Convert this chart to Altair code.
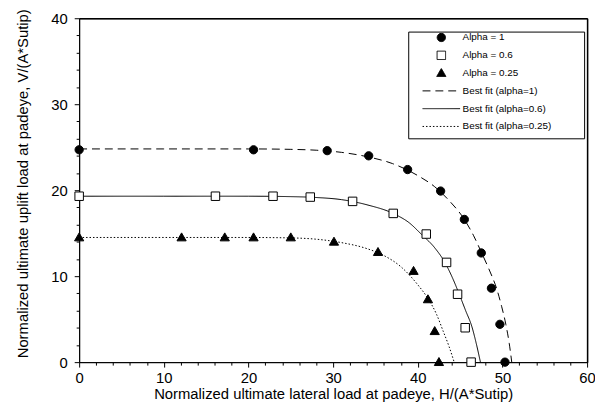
import altair as alt
import pandas as pd

# ---------------- data ----------------
series_names = ["Alpha = 1", "Alpha = 0.6", "Alpha = 0.25",
                "Best fit (alpha=1)", "Best fit (alpha=0.6)", "Best fit (alpha=0.25)"]

# measured points
a1_h = [0, 20.6, 29.3, 34.2, 38.8, 42.7, 45.5, 47.5, 48.7, 49.7, 50.3]
a1_v = [24.7, 24.7, 24.6, 24.0, 22.4, 19.9, 16.6, 12.7, 8.6, 4.4, 0]

a06_h = [0, 16.1, 22.9, 27.3, 32.3, 37.1, 41.0, 43.4, 44.7, 45.6, 46.3]
a06_v = [19.3, 19.3, 19.3, 19.2, 18.7, 17.3, 14.9, 11.6, 7.9, 4.0, 0]

a025_h = [0, 12.1, 17.2, 20.6, 25.0, 30.1, 35.3, 39.5, 41.2, 42.0, 42.5]
a025_v = [14.5, 14.5, 14.5, 14.5, 14.5, 14.0, 12.8, 10.6, 7.3, 3.6, 0]

# best-fit curves
fit1_h = [0, 10, 20, 25, 28, 31, 34, 37, 40, 42, 43.6, 45.5, 46.6, 47.5, 48.5, 49.3, 49.9, 50.4, 50.8, 51.1]
fit1_v = [24.8, 24.8, 24.8, 24.75, 24.65, 24.4, 23.9, 23.1, 21.7, 20.4, 18.9, 16.6, 14.7, 12.8, 10.6, 8.6, 6.5, 4.4, 2.2, 0]

fit06_h = [0, 10, 20, 25, 28, 31, 34, 37.3, 39, 40.4, 42, 43.2, 44.1, 44.9, 45.65, 46.4, 46.9, 47.4]
fit06_v = [19.3, 19.3, 19.3, 19.25, 19.15, 18.9, 18.3, 17.2, 16.2, 14.9, 13.3, 11.6, 9.8, 7.9, 6.0, 4.1, 2.2, 0]

fit025_h = [0, 10, 20, 25, 28, 31, 34, 36, 38, 40, 41.2, 42.2, 43.0, 43.7, 44.3]
fit025_v = [14.5, 14.5, 14.5, 14.45, 14.3, 13.9, 13.2, 12.4, 11.1, 9.0, 7.4, 5.6, 3.6, 1.8, 0]

x_title = "Normalized ultimate lateral load at padeye,  H/(A*Sutip)"
y_title = "Normalized ultimate uplift load at padeye, V/(A*Sutip)"

# ---------------- tables ----------------
pts = pd.concat([
    pd.DataFrame({"H": a1_h, "V": a1_v, "series": series_names[0]}),
    pd.DataFrame({"H": a06_h, "V": a06_v, "series": series_names[1]}),
    pd.DataFrame({"H": a025_h, "V": a025_v, "series": series_names[2]}),
], ignore_index=True)

fits = pd.concat([
    pd.DataFrame({"H": fit1_h, "V": fit1_v, "series": series_names[3]}),
    pd.DataFrame({"H": fit06_h, "V": fit06_v, "series": series_names[4]}),
    pd.DataFrame({"H": fit025_h, "V": fit025_v, "series": series_names[5]}),
], ignore_index=True)

FONT = "Liberation Sans"
SYM = 1444  # symbol size: stroke symbols become 38 px long

# marker outlines in unit space (scaled by sqrt(SYM)/2 = 19 px)
circle_path = "M0.221,0A0.221,0.221,0,1,1,-0.221,0A0.221,0.221,0,1,1,0.221,0Z"
square_path = "M-0.226,-0.226H0.226V0.226H-0.226Z"
tri_path = "M0,-0.245L0.245,0.18L-0.245,0.18Z"

# blank spacer title (widens the legend box to the right, as in the reference)
spacer = "\u200b" + "\u00a0" * 105 + "\u200b"

legend = alt.Legend(
    title=spacer, titleFontSize=6, titleOrient="bottom", titlePadding=0,
    titleLimit=400, titleFont=FONT,
    orient="none", legendX=333, legendY=13.5,
    fillColor="white", strokeColor="black", padding=1,
    symbolSize=SYM, clipHeight=10, symbolOffset=13, labelOffset=2, rowPadding=8,
    labelFont=FONT, labelFontSize=10, labelColor="black",
)

shape_scale = alt.Scale(domain=series_names,
                        range=[circle_path, square_path, tri_path, "stroke", "stroke", "stroke"])
fill_scale = alt.Scale(domain=series_names,
                       range=["black", "white", "black", "black", "black", "black"])
stroke_scale = alt.Scale(domain=series_names, range=["black"] * 6)
dash_scale = alt.Scale(domain=series_names,
                       range=[[1, 0], [1, 0], [1, 0], [8, 5], [1, 0], [1.5, 2]])
sw_scale = alt.Scale(domain=series_names, range=[1, 1, 1, 2, 2, 1.7])

major10 = "datum.value % 10 === 0"
xs = alt.Scale(domain=[0, 60], nice=False)
ys = alt.Scale(domain=[0, 40], nice=False)

x_enc = alt.X("H:Q", scale=xs,
              axis=alt.Axis(values=list(range(0, 61, 2)),
                            labelExpr=f"{major10} ? datum.label : ''",
                            labelFlush=False,
                            tickSize={"condition": {"test": major10, "value": 5}, "value": 3},
                            title=x_title, titlePadding=1, labelPadding=4))
y_enc = alt.Y("V:Q", scale=ys,
              axis=alt.Axis(values=list(range(0, 41, 2)),
                            labelExpr=f"{major10} ? datum.label : ''",
                            labelFlush=False,
                            tickSize={"condition": {"test": major10, "value": 5}, "value": 3},
                            title=y_title, titlePadding=21, titleY=167, labelPadding=7))

lines = alt.Chart(fits).mark_line(interpolate="monotone").encode(
    x=x_enc, y=y_enc,
    stroke=alt.Stroke("series:N", scale=stroke_scale, legend=legend),
    strokeDash=alt.StrokeDash("series:N", scale=dash_scale, legend=legend),
    strokeWidth=alt.StrokeWidth("series:N", scale=sw_scale, legend=legend),
)

points = alt.Chart(pts).mark_point(filled=True, opacity=1, size=SYM).encode(
    x=alt.X("H:Q", scale=xs, axis=None),
    y=alt.Y("V:Q", scale=ys, axis=None),
    shape=alt.Shape("series:N", scale=shape_scale, legend=legend),
    fill=alt.Fill("series:N", scale=fill_scale, legend=legend),
    stroke=alt.Stroke("series:N", scale=stroke_scale, legend=legend),
    strokeWidth=alt.StrokeWidth("series:N", scale=sw_scale, legend=legend),
)

# top and right axis lines close the plot frame
frame = alt.Chart(pts).mark_point(opacity=0).encode(
    x=alt.X("H:Q", scale=xs, axis=alt.Axis(orient="top", labels=False, ticks=False,
                                           title=None, domain=True, grid=False,
                                           domainColor="black", domainWidth=1.5)),
    y=alt.Y("V:Q", scale=ys, axis=alt.Axis(orient="right", labels=False, ticks=False,
                                           title=None, domain=True, grid=False,
                                           domainColor="black", domainWidth=1.5)),
)

chart = alt.layer(lines, points, frame).resolve_axis(
    x="independent", y="independent"
).properties(
    width=514, height=348,
    autosize=alt.AutoSizeParams(type="none"),
    padding={"left": 72, "top": 8, "right": 8, "bottom": 41},
).configure_view(
    stroke="black", strokeWidth=1
).configure_axis(
    grid=False, domainColor="black", tickColor="black",
    labelColor="black", titleColor="black",
    labelFont=FONT, titleFont=FONT, labelFontSize=15, titleFontSize=15,
    titleFontWeight="normal",
)

chart.save("out.html", embed_options={"renderer": "svg", "actions": False})
